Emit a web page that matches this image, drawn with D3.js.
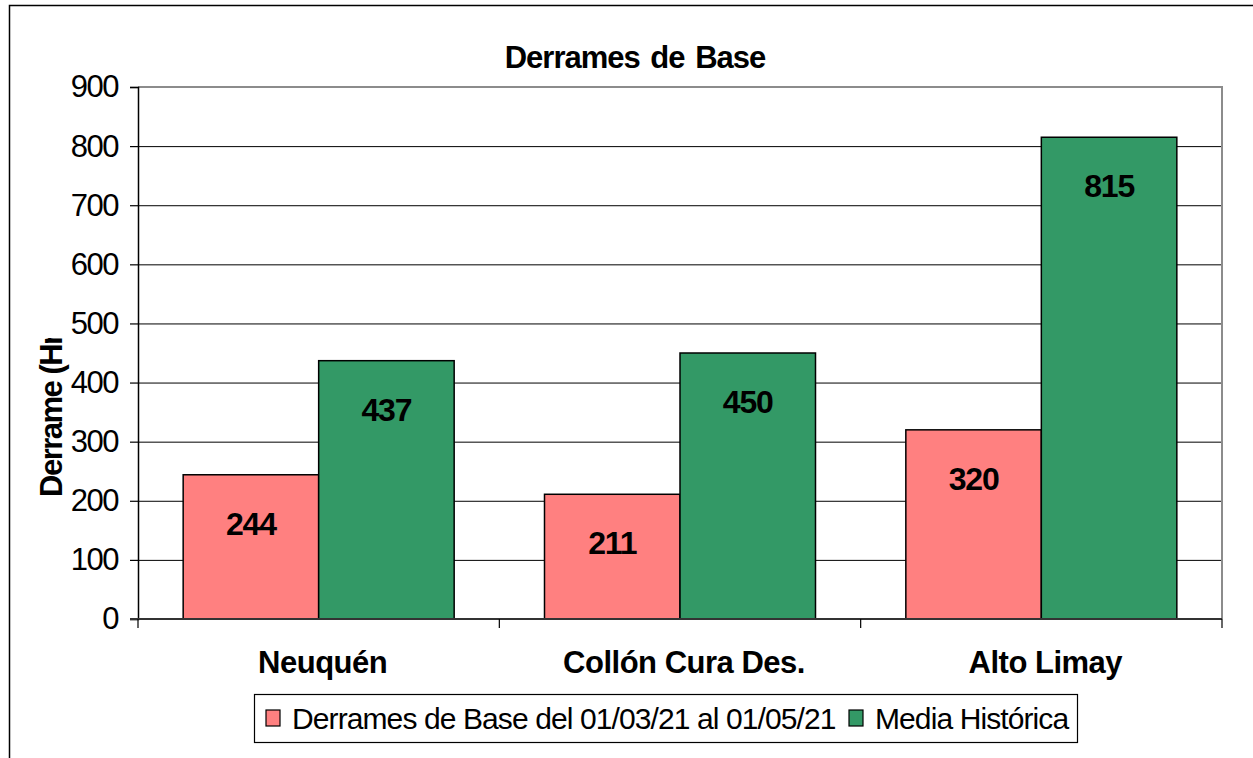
<!DOCTYPE html>
<html>
<head>
<meta charset="utf-8">
<script src="https://cdn.jsdelivr.net/npm/d3@7"></script>
<style>
  body { margin: 0; background: #fff; }
  text { font-family: "Liberation Sans", Arial, sans-serif; }
</style>
</head>
<body>
<div id="wrapper"></div>
<script>
const categories = ['Neuquén', 'Collón Cura Des.', 'Alto Limay']
const seriesNames = ['Derrames de Base del 01/03/21 al 01/05/21', 'Media Histórica']
const derrames = [244, 211, 320]
const media = [437, 450, 815]
const yTicks = [0, 100, 200, 300, 400, 500, 600, 700, 800, 900]
const colors = ['#ff8080', '#339966']

const width = 1253
const height = 758
const plot = { left: 138, right: 1222, top: 87, bottom: 619 }

const svg = d3.select('#wrapper')
    .append('svg')
        .attr('width', width)
        .attr('height', height)

// outer chart frame (runs off right and bottom)
svg.append('rect')
    .attr('x', 9.5)
    .attr('y', 5.5)
    .attr('width', 1300)
    .attr('height', 800)
    .attr('fill', 'none')
    .attr('stroke', '#000')
    .attr('stroke-width', 1.5)

const x0 = d3.scaleBand()
    .domain(categories)
    .range([plot.left, plot.right])

const x1 = d3.scaleBand()
    .domain([0, 1])
    .range([x0.bandwidth() * 0.125, x0.bandwidth() * 0.875])

const y = d3.scaleLinear()
    .domain([0, 900])
    .range([plot.bottom, plot.top])

// gridlines
svg.append('g')
    .selectAll('line')
    .data(yTicks.slice(1, -1))
    .join('line')
        .attr('x1', plot.left)
        .attr('x2', plot.right)
        .attr('y1', d => y(d) + 0.5)
        .attr('y2', d => y(d) + 0.5)
        .attr('stroke', '#000')
        .attr('stroke-width', 1)

// plot area border (top and right grey)
svg.append('path')
    .attr('d', `M${plot.left},${y(900)}H${plot.right}V${plot.bottom}`)
    .attr('fill', 'none')
    .attr('stroke', '#8c8c8c')
    .attr('stroke-width', 2)

// bars
const rows = categories.map((c, i) => ({ cat: c, vals: [derrames[i], media[i]] }))

const groups = svg.append('g')
    .selectAll('g')
    .data(rows)
    .join('g')
        .attr('transform', d => `translate(${x0(d.cat)},0)`)

groups.selectAll('rect')
    .data(d => d.vals.map((v, k) => ({ k, v })))
    .join('rect')
        .attr('x', d => x1(d.k))
        .attr('y', d => y(d.v))
        .attr('width', x1.bandwidth())
        .attr('height', d => y(0) - y(d.v))
        .attr('fill', d => colors[d.k])
        .attr('stroke', '#000')
        .attr('stroke-width', 1.5)

groups.selectAll('text')
    .data(d => d.vals.map((v, k) => ({ k, v })))
    .join('text')
        .attr('x', d => x1(d.k) + x1.bandwidth() / 2)
        .attr('y', d => y(d.v) + 60)
        .attr('text-anchor', 'middle')
        .attr('font-size', 32)
        .attr('font-weight', 'bold')
        .attr('letter-spacing', -1.2)
        .text(d => d.v)

// y axis
const yAxis = svg.append('g')
    .attr('transform', `translate(${plot.left},0)`)
    .call(d3.axisLeft(y).tickValues(yTicks).tickSize(8).tickPadding(12))

yAxis.select('.domain').attr('stroke', '#000').attr('stroke-width', 1.5)
yAxis.selectAll('.tick line').attr('stroke', '#000').attr('stroke-width', 1.2)
yAxis.selectAll('.tick text')
    .attr('font-size', 31)
    .attr('font-family', '"Liberation Sans", Arial, sans-serif')
    .attr('letter-spacing', -1.5)
    .attr('fill', '#000')

// x axis
const xAxisLine = svg.append('g')
xAxisLine.append('line')
    .attr('x1', plot.left - 8)
    .attr('x2', plot.right)
    .attr('y1', plot.bottom)
    .attr('y2', plot.bottom)
    .attr('stroke', '#333')
    .attr('stroke-width', 2)

const xTickPos = categories.map(c => x0(c)).concat([plot.right])
xAxisLine.selectAll('.xt')
    .data(xTickPos)
    .join('line')
        .attr('class', 'xt')
        .attr('x1', d => d)
        .attr('x2', d => d)
        .attr('y1', plot.bottom)
        .attr('y2', plot.bottom + 9)
        .attr('stroke', '#000')
        .attr('stroke-width', 1.2)

svg.append('g')
    .selectAll('text')
    .data(categories)
    .join('text')
        .attr('x', d => x0(d) + x0.bandwidth() / 2 + 4)
        .attr('y', 673)
        .attr('text-anchor', 'middle')
        .attr('font-size', 31)
        .attr('font-weight', 'bold')
        .attr('letter-spacing', -0.5)
        .text(d => d)

// title
svg.append('text')
    .attr('x', 635)
    .attr('y', 68)
    .attr('text-anchor', 'middle')
    .attr('font-size', 31)
    .attr('font-weight', 'bold')
    .attr('letter-spacing', -1)
    .attr('word-spacing', 3)
    .text('Derrames de Base')

// y axis title, clipped like the original
svg.append('clipPath')
    .attr('id', 'ytclip')
    .append('rect')
        .attr('x', 0)
        .attr('y', 338)
        .attr('width', 130)
        .attr('height', 400)

svg.append('g')
    .attr('clip-path', 'url(#ytclip)')
    .append('text')
        .attr('transform', 'translate(62,497) rotate(-90)')
        .attr('font-size', 31)
        .attr('font-weight', 'bold')
        .attr('letter-spacing', -1.5)
        .text('Derrame (Hm3)')

// legend
const legend = svg.append('g')
legend.append('rect')
    .attr('x', 254.5)
    .attr('y', 694.5)
    .attr('width', 823)
    .attr('height', 48)
    .attr('fill', '#fff')
    .attr('stroke', '#000')
    .attr('stroke-width', 1.2)

const legX = [266, 849]
legend.selectAll('.sw')
    .data(seriesNames)
    .join('rect')
        .attr('class', 'sw')
        .attr('x', (d, i) => legX[i])
        .attr('y', 710)
        .attr('width', 14)
        .attr('height', 16)
        .attr('fill', (d, i) => colors[i])
        .attr('stroke', '#000')
        .attr('stroke-width', 1.2)

legend.selectAll('.lt')
    .data(seriesNames)
    .join('text')
        .attr('class', 'lt')
        .attr('x', (d, i) => legX[i] + 26)
        .attr('y', 729)
        .attr('font-size', 30)
        .attr('letter-spacing', -0.9)
        .text(d => d)
</script>
</body>
</html>
